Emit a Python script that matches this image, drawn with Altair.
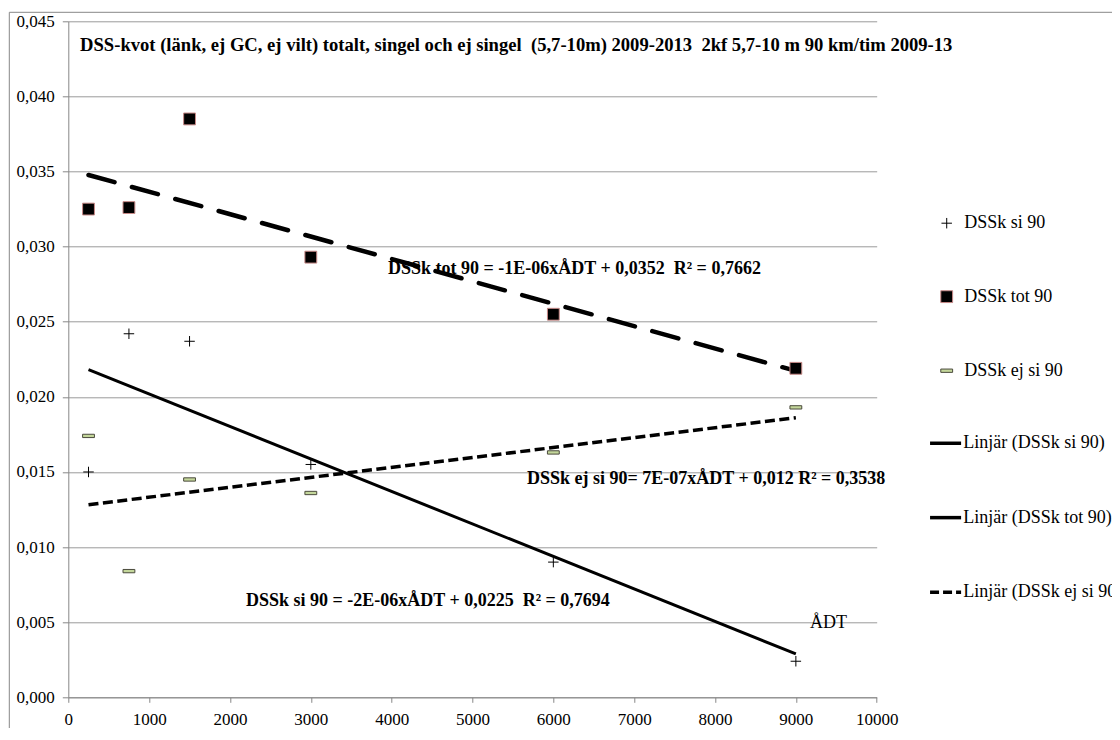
import altair as alt
import pandas as pd

# ---- data ----
adt = [250, 750, 1500, 3000, 6000, 9000]
dssk_si = [0.0150, 0.0242, 0.0237, 0.0155, 0.0090, 0.0024]
dssk_tot = [0.0325, 0.0326, 0.0385, 0.0293, 0.0255, 0.0219]
dssk_ej_si = [0.0174, 0.0084, 0.0145, 0.0136, 0.0163, 0.0193]

x_ticks = [0, 1000, 2000, 3000, 4000, 5000, 6000, 7000, 8000, 9000, 10000]
y_ticks = [0.0, 0.005, 0.01, 0.015, 0.02, 0.025, 0.03, 0.035, 0.04, 0.045]

NB = " \u00a0"  # keeps the double spaces of the original text
title_text = ("DSS-kvot (länk, ej GC, ej vilt) totalt, singel och ej singel" + NB +
              "(5,7-10m) 2009-2013" + NB + "2kf 5,7-10 m 90 km/tim 2009-13")
eq_texts = [
    "DSSk tot 90 = -1E-06xÅDT + 0,0352" + NB + "R² = 0,7662",
    "DSSk ej si 90= 7E-07xÅDT + 0,012 R² = 0,3538",
    "DSSk si 90 = -2E-06xÅDT + 0,0225" + NB + "R² = 0,7694",
]
eq_x = [3955, 5674, 2198]
eq_y = [0.02852, 0.01453, 0.00641]
title_x = [146]
title_y = [0.04343]
axis_title = ["ÅDT"]
axis_title_x = [9176]
axis_title_y = [0.00495]

leg_labels = ["DSSk si 90", "DSSk tot 90", "DSSk ej si 90",
              "Linjär (DSSk si 90)", "Linjär (DSSk tot 90)", "Linjär (DSSk ej si 90)"]
leg_y = [0.03156, 0.02667, 0.02174, 0.01691, 0.01196, 0.00699]
leg_sym_x = 10866
leg_line_x1 = 10660
leg_line_x2 = 11044
leg_text_x = [11084, 11084, 11084, 11072, 11072, 11072]

W, H = 808.4, 676
FONT = "Liberation Serif"
GRAY = "#888888"

xs = alt.Scale(domain=[0, 10000], nice=False, zero=False)
ys = alt.Scale(domain=[0, 0.045], nice=False)

def X(field="x"):
    return alt.X(f"{field}:Q", scale=xs, title=None,
                 axis=alt.Axis(values=x_ticks, format="d", grid=False, labelFlush=False,
                               tickSize=5, labelPadding=9, labelFontSize=17,
                               labelFont=FONT, labelColor="black"))

def Y(field="y"):
    return alt.Y(f"{field}:Q", scale=ys, title=None,
                 axis=alt.Axis(values=y_ticks, grid=True, tickSize=6, labelPadding=8,
                               labelFlush=False,
                               labelFontSize=17, labelFont=FONT, labelColor="black",
                               labelExpr="replace(format(datum.value, '.3f'), '.', ',')"))

df_si = pd.DataFrame({"x": adt, "y": dssk_si})
df_tot = pd.DataFrame({"x": adt, "y": dssk_tot})
df_ej = pd.DataFrame({"x": adt, "y": dssk_ej_si})

PLUS = "M-1,0L1,0M0,-1L0,1"
DASH = "M-1,-0.28L1,-0.28L1,0.28L-1,0.28Z"

def plus_layer(df):
    return alt.Chart(df).mark_point(shape=PLUS, filled=False, stroke="black",
                                    strokeWidth=1, size=110, opacity=1).encode(x=X(), y=Y())

def square_layer(df):
    return alt.Chart(df).mark_point(shape="square", filled=True, fill="black",
                                    stroke="#c98a88", strokeWidth=1, size=140,
                                    opacity=1).encode(x=X(), y=Y())

def dash_layer(df):
    return alt.Chart(df).mark_point(shape=DASH, filled=True, fill="#c4d79b",
                                    stroke="#4a4a3c", strokeWidth=1, size=140,
                                    opacity=1).encode(x=X(), y=Y())

trend_si = alt.Chart(df_si).transform_regression("x", "y").mark_line(
    color="black", strokeWidth=3).encode(x=X(), y=Y())
trend_tot = alt.Chart(df_tot).transform_regression("x", "y").mark_line(
    color="black", strokeWidth=4.5, strokeDash=[27, 18], strokeCap="round").encode(x=X(), y=Y())
trend_ej = alt.Chart(df_ej).transform_regression("x", "y").mark_line(
    color="black", strokeWidth=3.5, strokeDash=[10, 4.5]).encode(x=X(), y=Y())

df_eq = pd.DataFrame({"x": eq_x, "y": eq_y, "t": eq_texts})
eq_layer = alt.Chart(df_eq).mark_text(align="left", baseline="middle", font=FONT,
                                      fontSize=18, fontWeight="bold", color="black").encode(
    x=X(), y=Y(), text="t:N")
df_title = pd.DataFrame({"x": title_x, "y": title_y, "t": [title_text]})
title_layer = alt.Chart(df_title).mark_text(align="left", baseline="middle", font=FONT,
                                            fontSize=18.6, fontWeight="bold", color="black").encode(
    x=X(), y=Y(), text="t:N")
df_at = pd.DataFrame({"x": axis_title_x, "y": axis_title_y, "t": axis_title})
at_layer = alt.Chart(df_at).mark_text(align="left", baseline="middle", font=FONT,
                                      fontSize=18, color="black").encode(
    x=X(), y=Y(), text="t:N")

# legend built from the same scales
df_leg_si = pd.DataFrame({"x": [leg_sym_x], "y": [leg_y[0]]})
df_leg_tot = pd.DataFrame({"x": [leg_sym_x], "y": [leg_y[1]]})
df_leg_ej = pd.DataFrame({"x": [leg_sym_x], "y": [leg_y[2]]})
df_leg_lines = pd.DataFrame({"x": [leg_line_x1] * 3, "x2": [leg_line_x2] * 3,
                             "y": leg_y[3:], "k": [0, 1, 2]})
leg_solid = alt.Chart(df_leg_lines).transform_filter("datum.k < 2").mark_rule(
    color="black", strokeWidth=3.5).encode(x=X(), x2="x2:Q", y=Y())
leg_dashed = alt.Chart(df_leg_lines).transform_filter("datum.k == 2").mark_rule(
    color="black", strokeWidth=3.5, strokeDash=[9, 4]).encode(x=X(), x2="x2:Q", y=Y())
df_leg_text = pd.DataFrame({"x": leg_text_x, "y": leg_y, "t": leg_labels})
leg_text = alt.Chart(df_leg_text).mark_text(align="left", baseline="middle", font=FONT,
                                            fontSize=18, color="black").encode(
    x=X(), y=Y(), text="t:N")

# chart-area border (decoration)
border_top = alt.Chart(alt.Data(values=[{}])).mark_rule(color=GRAY, strokeWidth=1).encode(
    x=alt.value(-59), x2=alt.value(1100), y=alt.value(-9))
border_left = alt.Chart(alt.Data(values=[{}])).mark_rule(color=GRAY, strokeWidth=1).encode(
    x=alt.value(-59), y=alt.value(-9), y2=alt.value(720))

chart = alt.layer(
    trend_si, trend_tot, trend_ej,
    plus_layer(df_si), square_layer(df_tot), dash_layer(df_ej),
    title_layer, eq_layer, at_layer,
    plus_layer(df_leg_si), square_layer(df_leg_tot), dash_layer(df_leg_ej),
    leg_solid, leg_dashed, leg_text,
    border_top, border_left,
).properties(
    width=W, height=H,
    autosize=alt.AutoSizeParams(type="none"),
    padding={"left": 60.3, "top": 13.3, "right": 235.3, "bottom": 30.7},
    background="white",
).configure(font=FONT).configure_view(stroke=None).configure_axis(
    labelFont=FONT, labelColor="black", domainColor=GRAY, tickColor=GRAY,
    gridColor="#9a9a9a", domainWidth=1, gridWidth=1,
)

chart.save("out.html", embed_options={"renderer": "svg", "actions": False})
